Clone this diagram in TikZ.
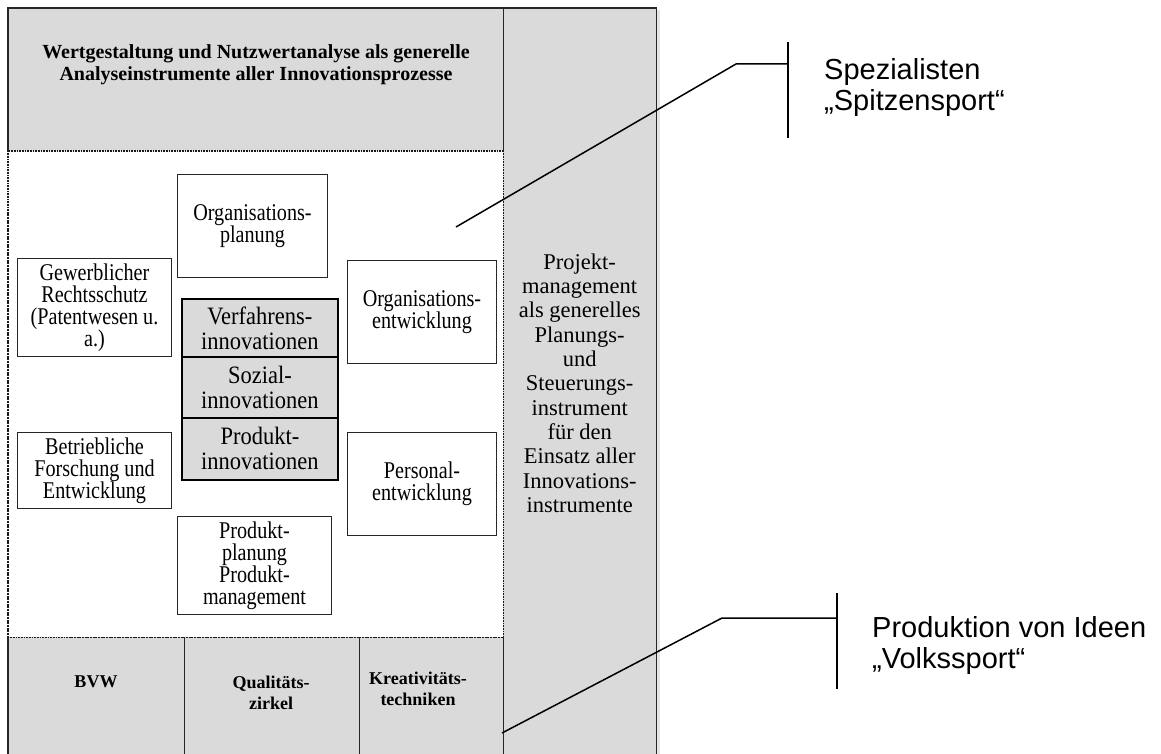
\documentclass[tikz,border=0pt]{standalone}
\usepackage{fontspec}
\setmainfont{Liberation Serif}
\newfontfamily\calloutfont{Liberation Sans}
\newfontfamily\boxfont[FakeStretch=0.84]{Liberation Serif}
\newfontfamily\stackfont[FakeStretch=0.9]{Liberation Serif}
\definecolor{boxgray}{RGB}{218,218,218}
\definecolor{shadowgray}{RGB}{228,228,228}
\begin{document}
\begin{tikzpicture}[x=1pt,y=-1pt,
  greyfill/.style={fill=boxgray, inner sep=0pt, anchor=north west},
  cell/.style={greyfill, minimum height=121pt},
  wbox/.style={draw=black!85, line width=1pt, fill=white, inner sep=0pt, anchor=north west, align=center, font=\boxfont\fontsize{24}{22}\selectfont},
  stackbox/.style={draw=black, line width=1.8pt, fill=boxgray, inner sep=0pt, anchor=north west, minimum width=156pt, align=center, font=\stackfont\fontsize{25}{25}\selectfont},
  frame/.style={draw=black!85, line width=1.1pt},
  dotline/.style={draw=black!90, line width=1.8pt, dash pattern=on 1.1pt off 0.5pt},
  btitle/.style={align=center, inner sep=0pt, font=\bfseries\fontsize{20}{22}\selectfont},
  bcell/.style={align=center, inner sep=0pt, font=\bfseries\fontsize{18}{21}\selectfont},
  callout/.style={draw=black, line width=1.5pt},
  ctext/.style={align=left, inner sep=0pt, anchor=west, font=\calloutfont\fontsize{29}{31}\selectfont}
]
\useasboundingbox (0,0) rectangle (1161,754);

% grey areas
\node[greyfill, minimum width=495pt, minimum height=143pt] (top) at (8,8) {};
\fill[shadowgray] (656,10) rectangle (660,754);
\node[greyfill, minimum width=153pt, minimum height=750pt, align=center,
      font=\fontsize{22.5}{24.3}\selectfont] (pm) at (503,8)
  {Projekt-\\management\\als generelles\\Planungs-\\und\\Steuerungs-\\instrument\\für den\\Einsatz aller\\Innovations-\\instrumente};
\node[cell, minimum width=176pt] (bvw) at (8,637) {};
\node[cell, minimum width=175pt] (qz) at (184,637) {};
\node[cell, minimum width=144pt] (kt) at (359,637) {};

% middle white area with dotted border
\node[fill=white, inner sep=0pt, anchor=north west, minimum width=495pt, minimum height=486pt] (mid) at (8,151) {};
\draw[dotline] (mid.north west) rectangle (mid.south east);

% solid frame lines
\draw[frame] (top.south west) -- (top.north west) -- (pm.north east) -- (pm.south east);
\draw[frame] (top.north east) -- (top.south east);
\draw[frame] (bvw.north west) -- (bvw.south west);
\draw[frame] (bvw.north east) -- (bvw.south east);
\draw[frame] (qz.north east) -- (qz.south east);
\draw[frame] (kt.north east) -- (kt.south east);

% texts in grey areas
\node[btitle] (toptxt) at (256,65) {Wertgestaltung und Nutzwertanalyse als generelle\\Analyseinstrumente aller Innovationsprozesse};
\node[bcell] (bvwt) at (96,682) {BVW};
\node[bcell] (qzt) at (271,693) {Qualitäts-\\zirkel};
\node[bcell] (ktt) at (418,689) {Kreativitäts-\\techniken};

% white boxes
\node[wbox, minimum width=150pt, minimum height=103pt] (orgp) at (177,174) {Organisations-\\planung};
\node[wbox, minimum width=154pt, minimum height=98pt] (gew) at (17,258) {Gewerblicher\\Rechtsschutz\\(Patentwesen u.\\a.)};
\node[wbox, minimum width=149pt, minimum height=103pt] (orge) at (347,260) {Organisations-\\entwicklung};
\node[wbox, minimum width=154pt, minimum height=76pt] (betr) at (17,432) {Betriebliche\\Forschung und\\Entwicklung};
\node[wbox, minimum width=149pt, minimum height=103pt] (pers) at (347,432) {Personal-\\entwicklung};
\node[wbox, minimum width=154pt, minimum height=98pt] (prodp) at (177,516) {Produkt-\\planung\\Produkt-\\management};

% central stack
\node[stackbox, minimum height=58pt] (verf) at (181,298) {Verfahrens-\\innovationen};
\node[stackbox, minimum height=61pt] (soz) at (181,356) {Sozial-\\innovationen};
\node[stackbox, minimum height=62pt] (prod) at (181,417) {Produkt-\\innovationen};

% callout 1
\coordinate (s1) at (456,227);
\coordinate (s1k) at (736,64);
\coordinate (s1m) at (788,64);
\coordinate (s1t) at (788,42);
\coordinate (s1b) at (788,138);
\draw[callout] (s1) -- (s1k) -- (s1m);
\draw[callout] (s1t) -- (s1b);
\node[ctext] (spez) at (824,88) {Spezialisten\\„Spitzensport“};

% callout 2
\coordinate (s2) at (502,733);
\coordinate (s2k) at (722,618);
\coordinate (s2m) at (837,618);
\coordinate (s2t) at (837,593);
\coordinate (s2b) at (837,689);
\draw[callout] (s2) -- (s2k) -- (s2m);
\draw[callout] (s2t) -- (s2b);
\node[ctext] (volk) at (872,645) {Produktion von Ideen\\„Volkssport“};
\end{tikzpicture}
\end{document}
